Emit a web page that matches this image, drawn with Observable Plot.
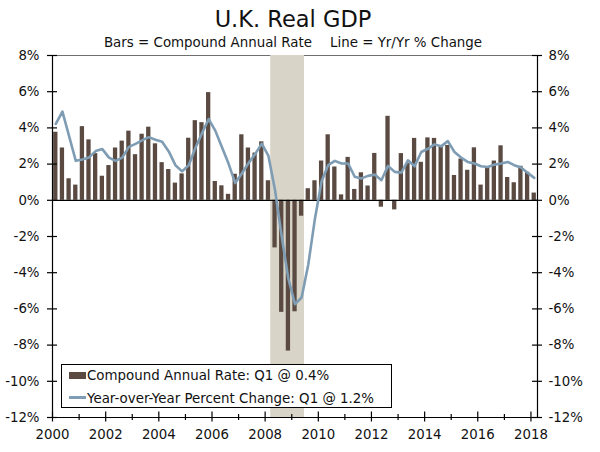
<!DOCTYPE html>
<html>
<head>
<meta charset="utf-8">
<script src="https://cdn.jsdelivr.net/npm/d3@7"></script>
<script src="https://cdn.jsdelivr.net/npm/@observablehq/plot@0.6"></script>
<style>
  body { margin: 0; background: #fff; font-family: "DejaVu Sans", Verdana, sans-serif; color: #111; }
  #wrap { position: relative; width: 600px; height: 452px; overflow: hidden; }
  #wrap svg { position: absolute; left: 0; top: 0; overflow: visible; }
  .title { position: absolute; left: 0; width: 586px; top: 8px; text-align: center; font-size: 22.5px; line-height: 22px; }
  .subtitle { position: absolute; left: 0; width: 586px; top: 36px; text-align: center; font-size: 13.4px; line-height: 13px; }
  .subtitle span + span { margin-left: 18px; }
  .legend { position: absolute; left: 61px; top: 364px; width: 331px; height: 44px; box-sizing: border-box; border: 1px solid #000; background: #fff; }
  .legend .sw { position: absolute; left: 7px; width: 17px; }
  .legend .tx { position: absolute; left: 25px; font-size: 13.4px; line-height: 15px; white-space: nowrap; }
</style>
</head>
<body>
<div id="wrap"></div>
<script>
// ---- data (quarterly, 2000 Q1 .. 2018 Q1) ----
const firstQuarter = "2000-01-01";
const compoundAnnualRate = [
  3.76, 2.89, 1.19, 0.84,   // 2000
  4.07, 3.34, 2.58, 1.33,   // 2001
  1.92, 2.89, 3.27, 3.82,   // 2002
  2.52, 3.65, 4.04, 3.12,   // 2003
  2.08, 1.70, 0.95, 1.46,   // 2004
  3.43, 4.40, 4.29, 5.95,   // 2005
  1.04, 0.80, 0.33, 1.44,   // 2006
  3.62, 2.89, 2.61, 3.23,   // 2007
  1.08, -2.63, -6.19, -8.33, // 2008
  -6.16, -0.88, 0.64, 1.08, // 2009
  2.17, 3.62, 1.84, 0.30,   // 2010
  2.37, 0.60, 1.52, 0.79,   // 2011
  2.59, -0.38, 4.64, -0.53, // 2012
  2.58, 2.03, 3.42, 2.10,   // 2013
  3.45, 3.42, 2.98, 3.03,   // 2014
  1.37, 2.28, 1.66, 2.90,   // 2015
  0.84, 1.81, 2.17, 3.01,   // 2016
  1.26, 0.97, 1.88, 1.55,   // 2017
  0.40                      // 2018
];
const yearOverYear = [
  4.22, 4.90, 3.55, 2.18,
  2.25, 2.37, 2.72, 2.83,
  2.36, 2.18, 2.36, 2.95,
  3.12, 3.31, 3.49, 3.35,
  3.23, 2.70, 1.94, 1.60,
  1.94, 2.88, 3.70, 4.49,
  3.85, 2.94, 2.03, 0.95,
  1.48, 2.05, 2.55, 3.13,
  2.45, 0.55, -2.00, -4.35,
  -5.74, -5.37, -3.55, -1.00,
  1.05, 1.94, 2.18, 2.03,
  2.03, 1.30, 1.21, 1.35,
  1.42, 1.11, 1.90, 1.57,
  1.53, 2.21, 1.88, 2.67,
  2.85, 3.09, 2.98, 3.27,
  2.67, 2.36, 2.12, 2.03,
  1.88, 1.84, 1.97, 2.03,
  2.12, 1.94, 1.81, 1.52,
  1.24
];
const recessions = [{start: "2008-03-18", end: "2009-06-25"}];
const xDomain = ["2000-01-01", "2018-04-01"];
const yDomain = [-12, 8];
const yTicks = [-12, -10, -8, -6, -4, -2, 0, 2, 4, 6, 8];
const xMinorYears = d3.range(2000, 2019);
const xLabelYears = d3.range(2000, 2019, 2);

// ---- styles ----
const barColor = "#5a4a42";
const lineColor = "#7e9cb3";
const shadeColor = "#d9d4c8";

// ---- build table ----
const q0 = new Date(firstQuarter);
const halfBar = 29.5 * 864e5;
const rows = compoundAnnualRate.map((v, i) => {
  const s = d3.utcMonth.offset(q0, 3 * i), e = d3.utcMonth.offset(q0, 3 * i + 3);
  const mid = new Date((+s + +e) / 2);
  return {mid, a: new Date(+mid - halfBar), b: new Date(+mid + halfBar), rate: v, yoy: yearOverYear[i]};
});
const rec = recessions.map(r => ({start: new Date(r.start), end: new Date(r.end)}));
const yr = y => new Date(Date.UTC(y, 0, 1));

const W = 600, H = 452, mT = 55, mB = 35, mL = 52, mR = 63;
const pw = W - mL - mR, ph = H - mT - mB;

const chart = Plot.plot({
  width: W, height: H,
  marginTop: mT, marginBottom: mB, marginLeft: mL, marginRight: mR,
  x: {type: "utc", domain: xDomain.map(d => new Date(d)), axis: null},
  y: {domain: yDomain, axis: null},
  style: {fontFamily: "DejaVu Sans, Verdana, sans-serif", fontSize: "13px", color: "#111", background: "transparent", overflow: "visible"},
  marks: [
    Plot.ruleY([yDomain[1]], {stroke: "#6e6e6e", strokeWidth: 1.2}),
    Plot.rect(rec, {x1: "start", x2: "end", y1: yDomain[0], y2: yDomain[1], fill: shadeColor}),
    Plot.rectY(rows, {x1: "a", x2: "b", y: "rate", fill: barColor}),
    Plot.ruleY([0], {stroke: "#000", strokeWidth: 1.2}),
    Plot.line(rows, {x: "mid", y: "yoy", stroke: lineColor, strokeWidth: 2.6, strokeLinejoin: "round"}),
    Plot.ruleX([new Date(xDomain[0])], {stroke: "#000", strokeWidth: 1.2}),
    Plot.ruleX([new Date(xDomain[1])], {stroke: "#000", strokeWidth: 1.2}),
    Plot.ruleY([yDomain[0]], {stroke: "#000", strokeWidth: 1.2}),
    // y ticks crossing left and right axes
    Plot.tickY(yTicks, {y: d => d, insetRight: pw - 10, dx: -5, stroke: "#000", strokeWidth: 1.2}),
    Plot.tickY(yTicks, {y: d => d, insetLeft: pw - 10, dx: 5, stroke: "#000", strokeWidth: 1.2}),
    // x ticks
    Plot.tickX(xMinorYears.filter(y => y % 2 === 1), {x: yr, insetTop: ph - 6, dy: 3, stroke: "#000", strokeWidth: 1.2}),
    Plot.tickX(xLabelYears, {x: yr, insetTop: ph - 10, dy: 4.5, stroke: "#000", strokeWidth: 1.2}),
    Plot.axisY(yTicks, {anchor: "left", tickSize: 0, tickPadding: 13, tickFormat: d => d + "%", fontSize: 13.3}),
    Plot.axisY(yTicks, {anchor: "right", tickSize: 0, tickPadding: 11, tickFormat: d => d + "%", fontSize: 13.3}),
    Plot.axisX(xLabelYears.map(yr), {anchor: "bottom", tickSize: 0, tickPadding: 12, tickFormat: d3.utcFormat("%Y"), fontSize: 13.3})
  ]
});

const wrap = document.getElementById("wrap");
wrap.appendChild(chart);

const last = rows[rows.length - 1];
const t = document.createElement("div");
t.className = "title"; t.textContent = "U.K. Real GDP";
wrap.appendChild(t);
const st = document.createElement("div");
st.className = "subtitle";
st.innerHTML = "<span>Bars = Compound Annual Rate</span><span>Line = Yr/Yr % Change</span>";
wrap.appendChild(st);

const lg = document.createElement("div");
lg.className = "legend";
lg.innerHTML =
  `<div class="sw" style="top:6.7px;height:7.4px;background:${barColor}"></div>` +
  `<div class="tx" style="top:3px">Compound Annual Rate: Q1 @ ${last.rate.toFixed(1)}%</div>` +
  `<div class="sw" style="top:31px;height:2.6px;background:${lineColor}"></div>` +
  `<div class="tx" style="top:25.5px">Year-over-Year Percent Change: Q1 @ ${last.yoy.toFixed(1)}%</div>`;
wrap.appendChild(lg);
</script>
</body>
</html>
